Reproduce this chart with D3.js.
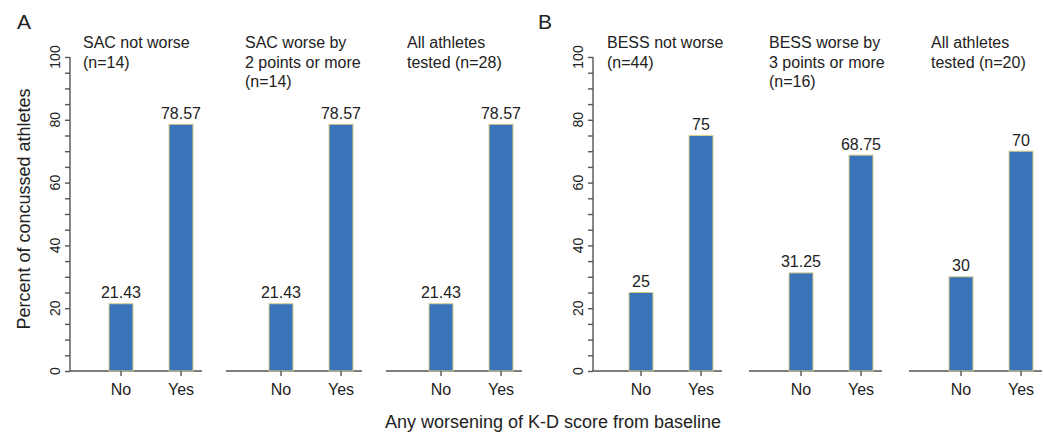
<!DOCTYPE html>
<html><head><meta charset="utf-8">
<script src="https://cdn.jsdelivr.net/npm/d3@7"></script>
<style>body{margin:0;background:#fff}svg{display:block;font-family:"Liberation Sans",Arial,sans-serif}</style>
</head><body>
<svg id="c" width="1044" height="432"></svg>
<script>
const categories = ["No", "Yes"];
const groupLabels = ["A", "B"];
const panelTitles = [
  ["SAC not worse", "(n=14)"],
  ["SAC worse by", "2 points or more", "(n=14)"],
  ["All athletes", "tested (n=28)"],
  ["BESS not worse", "(n=44)"],
  ["BESS worse by", "3 points or more", "(n=16)"],
  ["All athletes", "tested (n=20)"]
];
const noValues = [21.43, 21.43, 21.43, 25, 31.25, 30];
const yesValues = [78.57, 78.57, 78.57, 75, 68.75, 70];
const yTicks = [0, 20, 40, 60, 80, 100];
const yTitle = "Percent of concussed athletes";
const xTitle = "Any worsening of K-D score from baseline";

const svg = d3.select("#c");
const axisColor = "#555";
const textColor = "#222";
const barFill = "#3b73b9";
const barStroke = "#d9cf8c";

const y = d3.scaleLinear().domain([0, 100]).range([371, 57]);
const groupAxisX = [70, 593];
const panelStep = 160;

groupAxisX.forEach((ax, g) => {
  svg.append("text").attr("x", g === 0 ? 17 : 538).attr("y", 29)
    .attr("font-size", 21).attr("fill", textColor).text(groupLabels[g]);

  const yAxis = d3.axisLeft(y).tickValues(d3.range(0, 101, 5)).tickSize(5).tickFormat("");
  const ga = svg.append("g").attr("transform", `translate(${ax},0)`).call(yAxis);
  ga.selectAll("path,line").attr("stroke", axisColor).attr("stroke-width", 1.4);
  ga.select(".domain").attr("d", `M0,${y(100)}V${y(0)}`);
  yTicks.forEach(t => {
    svg.append("text")
      .attr("transform", `translate(${ax - 10},${y(t)}) rotate(-90)`)
      .attr("text-anchor", "middle").attr("font-size", 14).attr("fill", textColor)
      .text(t);
  });

  for (let k = 0; k < 3; k++) {
    const p = g * 3 + k;
    const ox = ax + panelStep * k;
    const off = g === 0 ? 0 : -3;
    const x = d3.scaleBand().domain(categories)
      .range([ox + 21 + off, ox + 141 + off]).paddingInner(0.6).paddingOuter(0.3);
    const vals = [noValues[p], yesValues[p]];
    const pg = svg.append("g");
    pg.append("line").attr("x1", k === 0 ? ox : ox - 4).attr("x2", ox + 132 + off)
      .attr("y1", y(0)).attr("y2", y(0)).attr("stroke", axisColor).attr("stroke-width", 1.4);
    pg.selectAll("rect").data(categories).join("rect")
      .attr("x", d => x(d)).attr("width", x.bandwidth())
      .attr("y", (d, i) => y(vals[i])).attr("height", (d, i) => y(0) - y(vals[i]))
      .attr("fill", barFill).attr("stroke", barStroke).attr("stroke-width", 1);
    pg.selectAll("text.v").data(categories).join("text").attr("class", "v")
      .attr("x", d => x(d) + x.bandwidth() / 2).attr("y", (d, i) => y(vals[i]) - 5.5)
      .attr("text-anchor", "middle").attr("font-size", 16).attr("fill", textColor)
      .text((d, i) => String(vals[i]));
    categories.forEach(c => {
      const cx = x(c) + x.bandwidth() / 2;
      pg.append("line").attr("x1", cx).attr("x2", cx).attr("y1", y(0)).attr("y2", y(0) + 5)
        .attr("stroke", axisColor).attr("stroke-width", 1.4);
      pg.append("text").attr("x", cx).attr("y", y(0) + 24).attr("text-anchor", "middle")
        .attr("font-size", 16).attr("fill", textColor).text(c);
    });
    const tx = ax + 13 + 162 * k + (g === 0 ? 0 : 1);
    const tt = pg.append("text").attr("x", tx).attr("y", 48).attr("font-size", 16).attr("fill", textColor);
    panelTitles[p].forEach((line, li) => {
      tt.append("tspan").attr("x", tx).attr("dy", li === 0 ? 0 : 19.5).text(line);
    });
  }
});

svg.append("text").attr("transform", `translate(30,209) rotate(-90)`)
  .attr("text-anchor", "middle").attr("font-size", 18).attr("fill", textColor).text(yTitle);
svg.append("text").attr("x", 553).attr("y", 428).attr("text-anchor", "middle")
  .attr("font-size", 18).attr("fill", textColor).text(xTitle);
</script>
</body></html>
